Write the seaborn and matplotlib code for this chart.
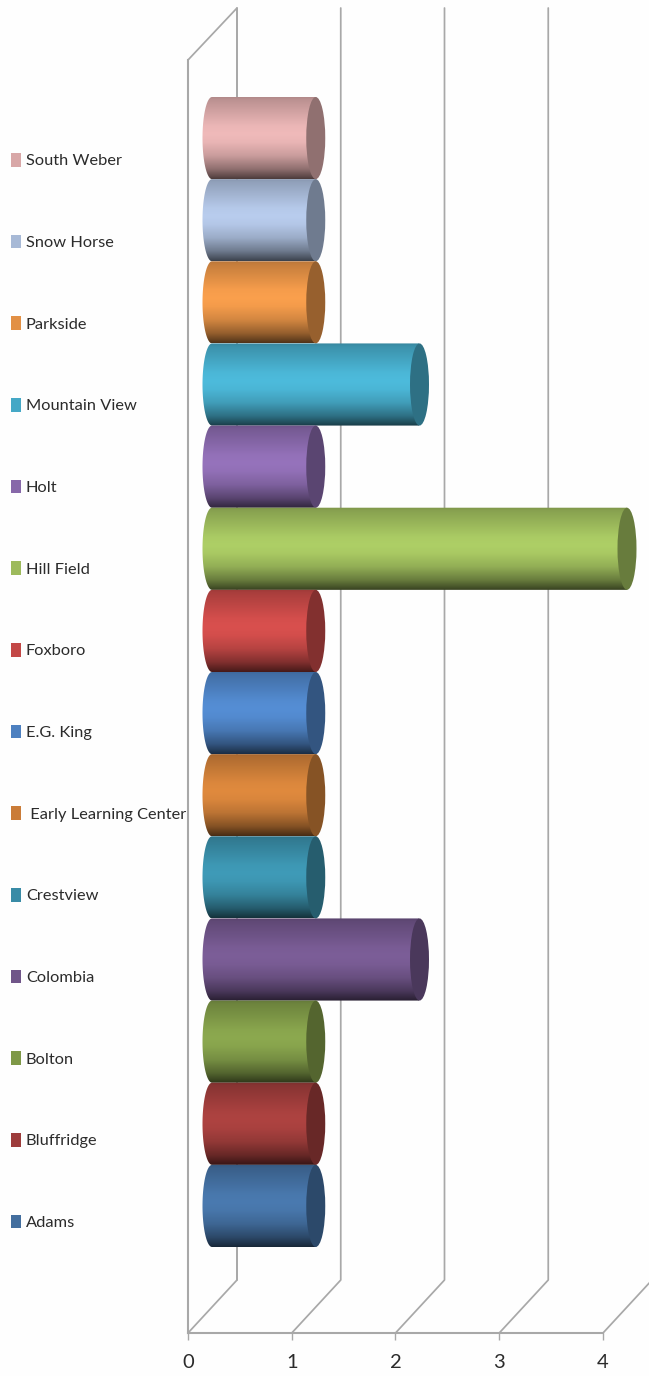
import numpy as np
import pandas as pd
import seaborn as sns
import matplotlib.pyplot as plt
from matplotlib.colors import to_rgb
from matplotlib.lines import Line2D
from matplotlib.patches import Ellipse, Patch, PathPatch
from matplotlib.path import Path

schools = ['Adams', 'Bluffridge', 'Bolton', 'Colombia', 'Crestview', ' Early Learning Center',
           'E.G. King', 'Foxboro', 'Hill Field', 'Holt', 'Mountain View', 'Parkside',
           'Snow Horse', 'South Weber']
counts = [1, 1, 1, 2, 1, 1, 1, 1, 4, 1, 2, 1, 1, 1]
colors = ['#4A7AB0', '#AE4341', '#8CA94F', '#7C5E98', '#3F9BB8', '#E08A3E', '#558ED5',
          '#D9504E', '#AECF66', '#9673BC', '#4DBBDC', '#FBA04D', '#B9CDEE', '#F0BABA']
x_ticks = [0, 1, 2, 3, 4]

W, H = 649, 1376
GRID = '#A8A8A8'
TEXT = '#2B2B2B'

sns.set_style('white')
plt.rcParams['font.family'] = ['Lato', 'DejaVu Sans']

fig = plt.figure(figsize=(W / 100, H / 100), dpi=100, facecolor='#FEFEFE')


def axes_px(left, right, top, bottom):
    return fig.add_axes([left / W, 1 - bottom / H, (right - left) / W, (bottom - top) / H])


def wall(xs, ys):
    fig.add_artist(Line2D([x / W for x in xs], [1 - y / H for y in ys], color=GRID, lw=1.25,
                          transform=fig.transFigure, zorder=0))


# front of the chart: real x axis plus the left edge
floor = axes_px(188, 603, 60, 1333)
floor.patch.set_alpha(0)
floor.set_xlim(0, 4)
floor.set_yticks([])
floor.set_xticks(x_ticks)
floor.set_xticklabels([str(t) for t in x_ticks], fontsize=14.5, color=TEXT)
floor.tick_params(axis='x', length=5, width=1, color=GRID, pad=10, bottom=True)
for side in ['top', 'right']:
    floor.spines[side].set_visible(False)
for side in ['left', 'bottom']:
    floor.spines[side].set_color(GRID)
    floor.spines[side].set_linewidth(1.5)

# back wall and the floor lines going to it
wall([188, 237, 237], [60, 8, 1280])
for t in x_ticks:
    bx = 237 + 103.75 * t
    wall([bx, bx, bx - 49], [8, 1280, 1333])

# bars
ax = axes_px(212, 627, 97, 1247)
ax.patch.set_alpha(0)
df = pd.DataFrame({'school': schools, 'count': counts})
sns.barplot(data=df, y='school', x='count', hue='school', order=schools, hue_order=schools,
            palette=colors, orient='h', width=1, legend=False, ax=ax)
ax.set_xlim(0, 4)
ax.set_ylim(-0.5, 13.5)
ax.set_autoscale_on(False)
ax.axis('off')

rx = 9.5 / 103.75
stops = [0, 0.04, 0.2, 0.36, 0.46, 0.56, 0.72, 0.88, 0.96, 1]
shade = [0.72, 0.78, 0.88, 0.98, 1, 0.97, 0.84, 0.6, 0.42, 0.32]
ramp = np.interp(np.linspace(0, 1, 160), stops, shade)

for bar in list(ax.patches):
    value = bar.get_width()
    y0 = bar.get_y()
    y1 = y0 + bar.get_height()
    mid = (y0 + y1) / 2
    idx = int(round(mid))
    base = np.array(to_rgb(colors[idx]))
    z = 20 - idx
    bar.set_visible(False)

    # body: rounded on the left, vertical light band
    a = np.linspace(np.pi / 2, 3 * np.pi / 2, 40)
    outline = [(value, y1)] + list(zip(rx * np.cos(a), mid + 0.5 * np.sin(a))) + [(value, y0), (value, y1)]
    clip = PathPatch(Path(outline), transform=ax.transData, fc='none', ec='none')
    ax.add_patch(clip)
    img = ax.imshow((ramp[:, None, None] * base[None, None, :]).clip(0, 1), aspect='auto',
                    extent=(-rx, value, y0, y1), origin='upper', zorder=z,
                    interpolation='bilinear')
    img.set_clip_box(fig.bbox)
    img.set_clip_path(clip)

    # flat end of the cylinder
    ax.add_patch(Ellipse((value, mid), 2 * rx, 1, fc=base * 0.6, ec='none', zorder=z + 0.5, clip_on=False))

handles = [Patch(fc=np.array(to_rgb(c)) * 0.9, ec='none') for c in colors[::-1]]
fig.legend(handles, schools[::-1], loc='upper left', bbox_to_anchor=(11 / W, 1 - 153 / H),
           frameon=False, borderpad=0, borderaxespad=0, fontsize=11.8, labelcolor=TEXT,
           handlelength=0.61, handleheight=0.9, handletextpad=0.3, labelspacing=4.04)

fig.savefig('out.png', dpi=100, facecolor=fig.get_facecolor())
